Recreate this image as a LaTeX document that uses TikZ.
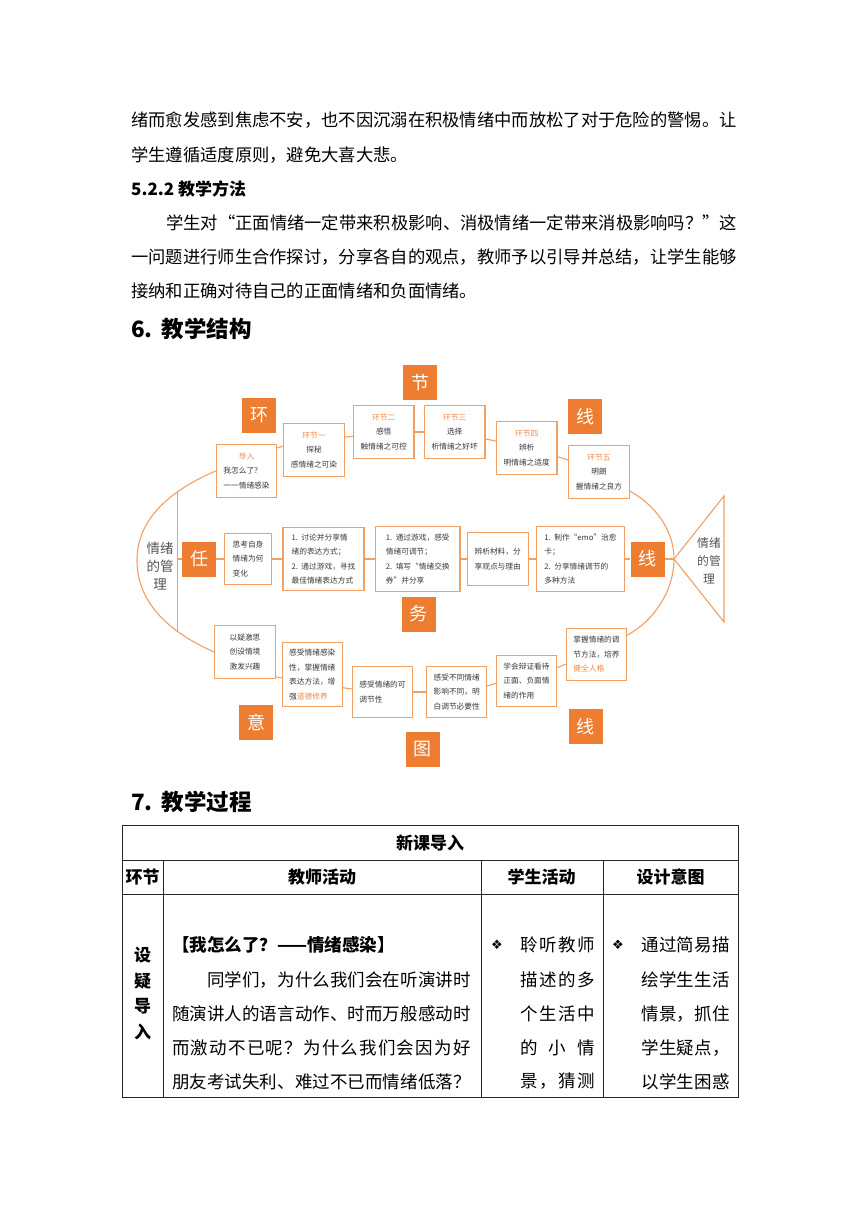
\documentclass[tikz,border=0pt]{standalone}
\usepackage{fontspec}
\usepackage{graphicx}
\setmainfont{Noto Sans CJK SC}
\newfontfamily\djv{DejaVu Sans}
\usetikzlibrary{calc}
\definecolor{orD}{HTML}{ED7D31}
\definecolor{orL}{HTML}{F2A062}
\definecolor{orT}{HTML}{EE8A4A}
\definecolor{txt}{HTML}{3A3A3A}
\definecolor{hd}{HTML}{555555}
\newcommand\sprd[2]{\makebox[#1][s]{\sprdA#2\relax}}
\def\sprdA#1{#1\sprdB}
\def\sprdB#1{\ifx\relax#1\else\hfil#1\expandafter\sprdB\fi}
\tikzset{
  body/.style={anchor=west, inner sep=0pt, font=\fontsize{17.3}{20}\selectfont},
  tb/.style={anchor=west, inner sep=0pt, font=\fontsize{17.5}{20}\selectfont},
  th/.style={inner sep=0pt, font=\bfseries\fontsize{17}{20}\selectfont},
  sq/.style={fill=orD, text=white, minimum width=34pt, minimum height=35pt, inner sep=0pt, font=\fontsize{18}{18}\selectfont},
  bx/.style={draw=orL, line width=1.1pt, fill=white, inner sep=0pt, text=txt, font=\fontsize{7.7}{14.5}\selectfont},
  tbox/.style={bx, minimum width=60.5pt, minimum height=52.5pt, align=center},
  fl/.style={draw=orL, line width=1.1pt},
  grid/.style={draw=black!85, line width=0.8pt}
}
\begin{document}
\begin{tikzpicture}[x=1pt,y=-1pt]
\useasboundingbox (0,0) rectangle (860,1216);
\fill[white] (0,0) rectangle (860,1216);

% ---- body text ----
\node[body] (p1) at (131,120) {\sprd{604pt}{绪而愈发感到焦虑不安，也不因沉溺在积极情绪中而放松了对于危险的警惕。让}};
\node[body] (p2) at (131,155) {学生遵循适度原则，避免大喜大悲。};
\node[body, font=\bfseries\fontsize{17}{20}\selectfont] (h522) at (131,189) {5.2.2 教学方法};
\node[body] (p3) at (166,223) {\sprd{569pt}{学生对“正面情绪一定带来积极影响、消极情绪一定带来消极影响吗？”这}};
\node[body] (p4) at (131,257) {\sprd{604pt}{一问题进行师生合作探讨，分享各自的观点，教师予以引导并总结，让学生能够}};
\node[body] (p5) at (131,291) {接纳和正确对待自己的正面情绪和负面情绪。};
\node[body, font=\bfseries\fontsize{22.5}{24}\selectfont] (h6) at (131,329) {6.\hspace{9pt}教学结构};
\node[body, font=\bfseries\fontsize{22.5}{24}\selectfont] (h7) at (131,802) {7.\hspace{9pt}教学过程};

% ---- diagram: labels ----
\node[sq] (huan) at (259,415) {环};
\node[sq] (jie) at (420,382.5) {节};
\node[sq] (xian1) at (585,416.5) {线};
\node[sq] (ren) at (199,559) {任};
\node[sq] (wu) at (418.5,614) {务};
\node[sq] (xian2) at (647.5,559) {线};
\node[sq] (yi) at (256,722) {意};
\node[sq] (tu) at (422.5,749) {图};
\node[sq] (xian3) at (585.5,726.7) {线};

% ---- top boxes ----
\node[tbox] (d0) at (246.5,471) {{\color{orT}导入}\\我怎么了？\phantom{一}\\一一情绪感染};
\node[tbox] (t1) at (314,450) {{\color{orT}环节一}\\探秘\\感情绪之可染};
\node[tbox] (t2) at (383.7,432) {{\color{orT}环节二}\\感悟\\触情绪之可控};
\node[tbox] (t3) at (454.7,432) {{\color{orT}环节三}\\选择\\析情绪之好坏};
\node[tbox] (t4) at (526.7,448) {{\color{orT}环节四}\\辨析\\明情绪之适度};
\node[tbox] (t5) at (599,472) {{\color{orT}环节五}\\明朗\\握情绪之良方};

% ---- middle boxes ----
\node[bx, minimum width=47.4pt, minimum height=51pt, align=left] (m1) at (248,559) {思考自身\\情绪为何\\变化};
\node[bx, minimum width=81pt, minimum height=63.3pt, align=left] (m2) at (323.5,559) {1.\ \ 讨论并分享情\\绪的表达方式；\\2.\ \ 通过游戏，寻找\\最佳情绪表达方式};
\node[bx, minimum width=84.3pt, minimum height=65pt, align=left] (m3) at (417.8,559) {1.\ \ 通过游戏，感受\\情绪可调节；\\2.\ \ 填写“情绪交换\\券”并分享};
\node[bx, minimum width=60.7pt, minimum height=53.3pt, align=left] (m4) at (497.7,559) {辨析材料，分\\享观点与理由};
\node[bx, minimum width=87.6pt, minimum height=65pt, align=left] (m5) at (580.5,559) {1.\ \ 制作“emo”治愈\\卡；\\2.\ \ 分享情绪调节的\\多种方法};

% ---- bottom boxes ----
\node[bx, minimum width=60.6pt, minimum height=52.3pt, align=center] (b1) at (245,652) {以疑激思\\创设情境\\激发兴趣};
\node[bx, minimum width=60pt, minimum height=64pt, align=left] (b2) at (312.3,674.7) {感受情绪感染\\性，掌握情绪\\表达方法，增\\强{\color{orT}道德修养}};
\node[bx, minimum width=60.4pt, minimum height=51.6pt, align=left] (b3) at (382.5,692) {感受情绪的可\\调节性};
\node[bx, minimum width=60pt, minimum height=51.7pt, align=left] (b4) at (456.7,692) {感受不同情绪\\影响不同，明\\白调节必要性};
\node[bx, minimum width=60.4pt, minimum height=51.4pt, align=left] (b5) at (526.5,681) {学会辩证看待\\正面、负面情\\绪的作用};
\node[bx, minimum width=60.4pt, minimum height=51.7pt, align=left] (b6) at (596.5,654.2) {掌握情绪的调\\节方法，培养\\{\color{orT}健全人格}};

% ---- head and tail text ----
\node[inner sep=0pt, align=center, text=hd, font=\fontsize{13.5}{18}\selectfont] (head) at (160,566) {情绪\\的管\\理};
\node[inner sep=0pt, align=center, text=hd, font=\fontsize{11.8}{17.7}\selectfont] (tail) at (709,561) {情绪\\的管\\理};

% ---- fish outline ----
\coordinate (apex) at (674,559);
\coordinate (hv1) at (177.5,492);
\coordinate (hv2) at (177.5,632);
\coordinate (hvm) at (177.5,559);
\coordinate (tt) at (724,496);
\coordinate (tbt) at (724,622);
\draw[fl] (d0.west) .. controls (155,497) and (137,530) .. (137,560) .. controls (137,592) and (155,626) .. (b1.west);
\draw[fl] (hv1) -- (hv2);
\draw[fl] ([yshift=-19pt]t5.east) .. controls (655,505) and (674,530) .. (apex) .. controls (674,590) and (655,620) .. ([yshift=19pt]b6.east);
\draw[fl, line join=miter] (apex) -- (tt) -- (tbt) -- cycle;

% ---- connectors ----
\draw[fl] ([yshift=23pt]d0.east) -- ([yshift=4pt]t1.west);
\draw[fl] ([yshift=13pt]t1.east) -- ([yshift=-4.4pt]t2.west);
\draw[fl] (t2.east) -- (t3.west);
\draw[fl] ([yshift=-7pt]t3.east) -- ([yshift=7pt]t4.west);
\draw[fl] ([yshift=-8.7pt]t4.east) -- ([yshift=12pt]t5.west);

\draw[fl] (hvm) -- (ren.west);
\draw[fl] (ren.east) -- (m1.west);
\draw[fl] (m1.east) -- (m2.west);
\draw[fl] (m2.east) -- (m3.west);
\draw[fl] (m3.east) -- (m4.west);
\draw[fl] (m4.east) -- (m5.west);
\draw[fl] (m5.east) -- (xian2.west);
\draw[fl] (xian2.east) -- (apex);

\draw[fl] ([yshift=-24.7pt]b1.east) -- ([yshift=-3.3pt]b2.west);
\draw[fl] ([yshift=-13pt]b2.east) -- ([yshift=3pt]b3.west);
\draw[fl] (b3.east) -- (b4.west);
\draw[fl] ([yshift=6pt]b4.east) -- ([yshift=-2.3pt]b5.west);
\draw[fl] ([yshift=13.3pt]b5.east) -- ([yshift=-10pt]b6.west);

% ---- table ----
\draw[grid] (122,825) rectangle (738,1097);
\draw[grid] (122,860) -- (738,860);
\draw[grid] (122,894) -- (738,894);
\draw[grid] (163,860) -- (163,1097);
\draw[grid] (481,860) -- (481,1097);
\draw[grid] (603,860) -- (603,1097);

\node[th] (xk) at (430,843) {新课导入};
\node[th] (c0) at (142.5,877) {环节};
\node[th] (c1) at (322,877) {教师活动};
\node[th] (c2) at (541.5,877) {学生活动};
\node[th] (c3) at (670.5,877) {设计意图};
\node[inner sep=0pt, align=center, font=\bfseries\fontsize{17}{25.5}\selectfont] (sy) at (142.5,993.5) {设\\疑\\导\\入};

\node[tb, font=\bfseries\fontsize{17.5}{20}\selectfont] (q0) at (172,945) {【我怎么了？——情绪感染】};
\node[tb] (q1) at (207,980) {\sprd{263.5pt}{同学们，为什么我们会在听演讲时}};
\node[tb] (q2) at (172,1014) {\sprd{298.5pt}{随演讲人的语言动作、时而万般感动时}};
\node[tb] (q3) at (172,1048) {\sprd{298.5pt}{而激动不已呢？为什么我们会因为好}};
\node[tb] (q4) at (172,1081.5) {\sprd{298.5pt}{朋友考试失利、难过不已而情绪低落？}};

\node[inner sep=0pt, font=\djv\fontsize{13}{13}\selectfont] (dia1) at (497,945) {❖};
\node[tb] (s1) at (520,945) {\sprd{75pt}{聆听教师}};
\node[tb] (s2) at (520,980) {\sprd{75pt}{描述的多}};
\node[tb] (s3) at (520,1014) {\sprd{75pt}{个生活中}};
\node[tb] (s4) at (520,1048) {\sprd{75pt}{的小情}};
\node[tb] (s5) at (520,1081.5) {\sprd{75pt}{景，猜测}};

\node[inner sep=0pt, font=\djv\fontsize{13}{13}\selectfont] (dia2) at (618,945) {❖};
\node[tb] (r1) at (641,945) {\sprd{89pt}{通过简易描}};
\node[tb] (r2) at (641,980) {\sprd{89pt}{绘学生生活}};
\node[tb] (r3) at (641,1014) {\sprd{89pt}{情景，抓住}};
\node[tb] (r4) at (641,1048) {\sprd{89pt}{学生疑点，}};
\node[tb] (r5) at (641,1081.5) {\sprd{89pt}{以学生困惑}};
\end{tikzpicture}
\end{document}
